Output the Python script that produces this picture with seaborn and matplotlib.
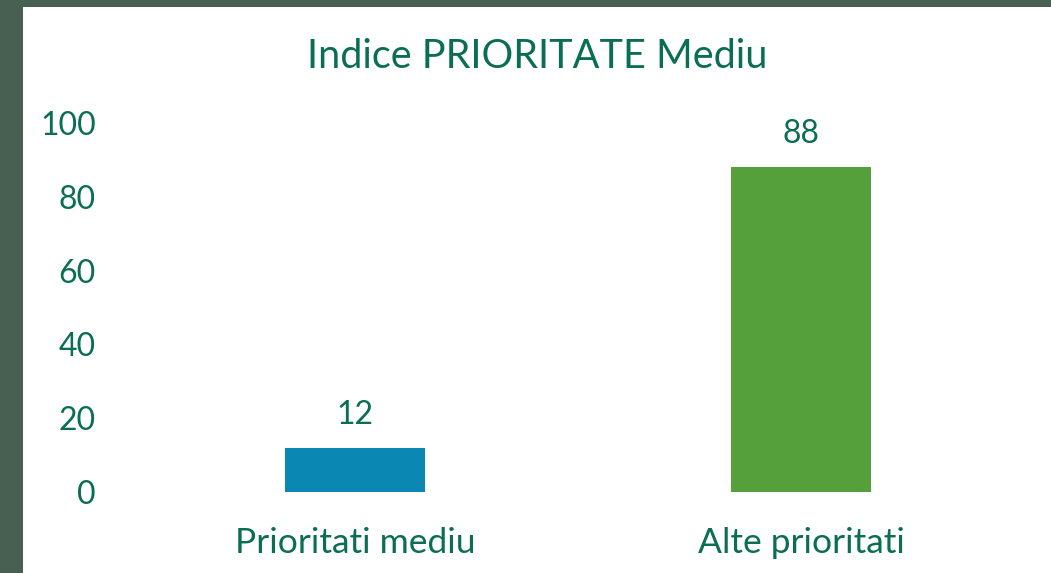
import pandas as pd
import seaborn as sns
import matplotlib.pyplot as plt

# Chart data
categories = ["Prioritati mediu", "Alte prioritati"]
values = [12, 88]
bar_colors = ["#0A87B2", "#55A03B"]

text_color = "#0A6E55"
border_color = "#476052"

df = pd.DataFrame({"categorie": categories, "valoare": values})

sns.set_style("white")
plt.rcParams["font.family"] = ["Lato", "DejaVu Sans"]

fig = plt.figure(figsize=(10.51, 5.73), dpi=100, facecolor=border_color)

# white panel inside the dark border
bg = fig.add_axes([23 / 1051, 0, 1 - 23 / 1051, 1 - 7 / 573])
bg.set_facecolor("white")
bg.set_xticks([])
bg.set_yticks([])
for s in bg.spines.values():
    s.set_visible(False)

ax = fig.add_axes([132 / 1051, 81 / 573, 892 / 1051, 369 / 573])
ax.set_facecolor("none")

sns.barplot(data=df, x="categorie", y="valoare", hue="categorie",
            palette=bar_colors, width=0.314, legend=False, ax=ax,
            saturation=1, linewidth=0)

ax.set_ylim(0, 100)
ax.set_xlim(-0.5, 1.5)
ax.set_yticks(range(0, 101, 20))
ax.set_xlabel("")
ax.set_ylabel("")
sns.despine(ax=ax, left=True, bottom=True)
ax.tick_params(axis="y", length=0, pad=26, labelsize=23, labelcolor=text_color)
ax.tick_params(axis="x", length=0, pad=25, labelsize=25.5, labelcolor=text_color)

# value labels above bars
for i, v in enumerate(values):
    ax.annotate(str(v), (i, v), xytext=(0, 13), textcoords="offset points",
                ha="center", va="bottom", fontsize=23, color=text_color)

fig.text(537 / 1051, 1 - 57 / 573, "Indice PRIORITATE Mediu", ha="center",
         va="center", fontsize=28.5, color=text_color)

fig.savefig("out.png", dpi=100, facecolor=fig.get_facecolor())
